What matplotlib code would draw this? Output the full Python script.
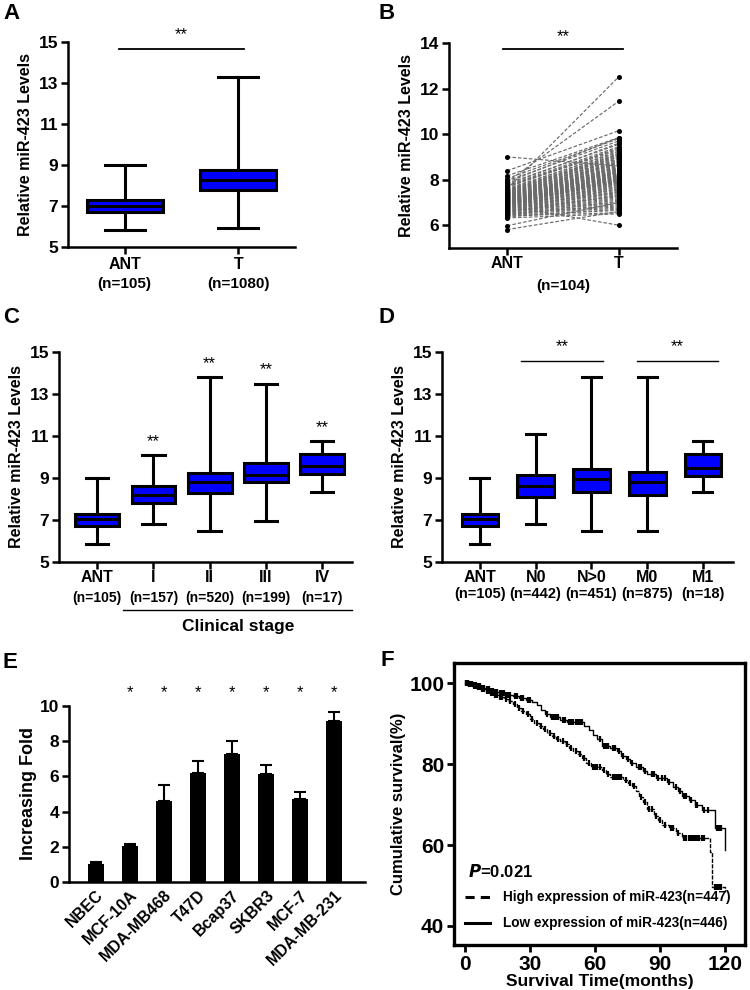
import numpy as np
import matplotlib
matplotlib.use('Agg')
import matplotlib.pyplot as plt

plt.rcParams['font.family'] = ['Liberation Sans', 'DejaVu Sans']
plt.rcParams['font.weight'] = 'bold'
plt.rcParams['axes.labelweight'] = 'bold'

# ---------------- data ----------------
# Panel A
a_groups = ['ANT', 'T']
a_counts = ['(n=105)', '(n=1080)']
a_whislo = [5.85, 5.95]
a_q1 = [6.70, 7.80]
a_med = [7.00, 8.25]
a_q3 = [7.30, 8.75]
a_whishi = [9.00, 13.30]

# Panel B (paired samples)
b_groups = ['ANT', 'T']
b_count = '(n=104)'
b_ant = [9.00, 8.39, 8.17, 8.05, 7.60, 7.90, 5.81, 5.98, 6.85, 7.95,
         7.12, 6.95, 7.33, 6.71, 7.48, 7.05, 6.62, 7.21, 6.88, 7.66,
         6.45, 7.02, 7.39, 6.79, 7.15, 6.54, 7.28, 7.83, 6.93, 7.10,
         6.37, 7.44, 7.01, 6.68, 7.57, 6.99, 7.24, 6.81, 7.72, 6.58,
         7.08, 6.90, 7.36, 6.49, 7.18, 7.52, 6.75, 7.04, 6.97, 7.30,
         6.63, 7.78, 7.13, 6.86, 6.41, 7.26, 7.61, 6.92, 7.07, 6.73,
         7.41, 6.56, 7.19, 6.84, 7.88, 7.00, 6.67, 7.35, 6.32, 7.11,
         6.96, 7.47, 6.77, 7.23, 6.52, 7.69, 7.03, 6.89, 7.16, 6.44,
         7.55, 6.82, 7.27, 6.60, 7.09, 7.38, 6.94, 6.70, 7.74, 6.98,
         7.20, 6.47, 7.43, 6.87, 7.06, 6.65, 7.31, 7.14, 6.80, 7.50,
         6.91, 7.25, 6.59, 7.01]
b_tumor = [8.60, 10.15, 9.85, 9.80, 12.52, 11.45, 6.60, 7.00, 6.00, 9.70,
           8.35, 7.95, 8.80, 7.60, 9.10, 8.20, 7.30, 8.55, 8.05, 9.40,
           7.05, 8.15, 8.90, 7.70, 8.40, 6.85, 8.70, 9.55, 7.90, 8.25,
           6.70, 9.00, 8.10, 7.45, 9.25, 8.00, 8.60, 7.80, 9.35, 6.95,
           8.30, 7.85, 8.75, 6.90, 8.45, 9.15, 7.50, 8.20, 8.05, 8.65,
           7.20, 9.60, 8.35, 7.75, 6.55, 8.50, 9.20, 7.95, 8.15, 7.40,
           8.85, 7.10, 8.40, 7.65, 9.85, 8.10, 7.35, 8.80, 6.50, 8.30,
           7.90, 9.05, 7.55, 8.55, 6.80, 9.30, 8.00, 7.70, 8.45, 6.65,
           9.10, 7.60, 8.70, 7.15, 8.25, 8.95, 7.85, 7.25, 9.45, 8.05,
           8.50, 6.75, 8.90, 7.80, 8.20, 7.00, 8.75, 8.35, 7.45, 9.00,
           7.95, 8.60, 7.30, 8.15]

# Panel C
c_groups = ['ANT', 'I', 'II', 'III', 'IV']
c_counts = ['(n=105)', '(n=157)', '(n=520)', '(n=199)', '(n=17)']
c_whislo = [5.85, 6.80, 6.50, 6.95, 8.35]
c_q1 = [6.70, 7.80, 8.30, 8.80, 9.20]
c_med = [7.05, 8.20, 8.80, 9.15, 9.55]
c_q3 = [7.30, 8.60, 9.25, 9.70, 10.15]
c_whishi = [9.00, 10.10, 13.80, 13.50, 10.75]
c_sig = ['', '**', '**', '**', '**']

# Panel D
d_groups = ['ANT', 'N0', 'N>0', 'M0', 'M1']
d_counts = ['(n=105)', '(n=442)', '(n=451)', '(n=875)', '(n=18)']
d_whislo = [5.85, 6.80, 6.50, 6.50, 8.35]
d_q1 = [6.70, 8.10, 8.35, 8.20, 9.10]
d_med = [7.05, 8.60, 8.95, 8.80, 9.50]
d_q3 = [7.30, 9.15, 9.45, 9.30, 10.15]
d_whishi = [9.00, 11.10, 13.80, 13.80, 10.75]

# Panel E
e_lines = ['NBEC', 'MCF-10A', 'MDA-MB468', 'T47D', 'Bcap37', 'SKBR3', 'MCF-7', 'MDA-MB-231']
e_fold = [1.02, 2.05, 4.60, 6.22, 7.25, 6.15, 4.73, 9.12]
e_err = [0.14, 0.13, 0.90, 0.64, 0.74, 0.50, 0.37, 0.55]
e_sig = ['', '*', '*', '*', '*', '*', '*', '*']

# Panel F (Kaplan-Meier)
f_low_time = [0, 2, 4, 6, 8, 10, 12, 14, 16, 19, 22, 25, 28, 31, 33, 35, 37, 39, 44, 47,
              55, 57, 59, 61, 63, 67, 70, 72, 74, 76, 79, 82, 84, 88, 93, 96, 98, 100,
              103, 106, 109, 115, 120]
f_low_surv = [100, 99.8, 99.5, 99.2, 98.9, 98.5, 98.1, 97.8, 97.5, 97.2, 96.8, 96.3, 95.8,
              95.4, 94.5, 93.4, 92.3, 91.6, 91.0, 90.3, 89.5, 88.4, 87.3, 86.1, 84.6, 84.0,
              83.2, 82.1, 81.2, 80.2, 79.2, 78.3, 77.5, 76.6, 75.6, 74.4, 73.3, 72.2, 71.1,
              70.0, 68.6, 64.2, 58.8]
f_low_cens = [0.5, 1, 1.5, 2, 2.5, 3, 3.5, 4, 5, 6, 7, 8, 9, 10, 11, 12, 13, 14, 15, 16, 17,
              18, 19, 20, 21, 23, 24, 26, 27, 29, 30, 38, 40, 41, 42, 43, 45, 46, 48, 49, 50,
              51, 52, 53, 54, 62, 64, 65, 66, 68, 69, 71, 73, 75, 77, 80, 81, 83, 86, 87, 89,
              91, 92, 94, 97, 99, 101, 102, 104, 106.5, 107, 110, 112, 116, 117, 118]
f_high_time = [0, 2, 4, 6, 8, 10, 12, 14, 16, 18, 20, 22, 24, 26, 28, 30, 32, 34, 36, 38,
               40, 42, 44, 46, 48, 50, 52, 54, 56, 58, 63, 65, 67, 73, 75, 77, 79, 80, 82, 84,
               87, 89, 91, 94, 97, 100, 113, 114, 120]
f_high_surv = [100, 99.7, 99.4, 99.0, 98.6, 98.1, 97.5, 97.0, 96.6, 96.2, 95.5, 94.8, 94.0,
               93.2, 92.3, 91.2, 90.2, 89.5, 88.6, 87.8, 87.0, 86.3, 85.7, 85.0, 84.1, 83.3,
               82.4, 81.6, 80.4, 79.3, 78.6, 77.6, 76.9, 76.2, 75.4, 74.5, 73.3, 72.0, 70.6,
               68.9, 67.2, 66.3, 65.0, 64.1, 63.0, 61.7, 58.2, 49.6, 48.3]
f_high_cens = [0.5, 1, 1.5, 2, 2.5, 3, 3.5, 4, 5, 6, 7, 8, 9, 10, 11, 12, 13, 14, 15, 16, 17,
               19, 21, 23, 25, 27, 29, 31, 33, 35, 37, 39, 41, 43, 45, 47, 49, 51, 53, 55, 57,
               59, 60, 61, 62, 64, 66, 68, 69, 70, 71, 72, 74, 76, 78, 81, 83, 85, 86, 88, 90,
               92, 95, 96, 98, 101, 102, 103, 104, 105, 106, 107, 108, 109, 110, 115, 116,
               117, 118]
f_p = 0.021
f_legend = ['High expression of miR-423(n=447)', 'Low expression of miR-423(n=446)']

# ---------------- layout helpers ----------------
W, H = 750, 990
fig = plt.figure(figsize=(W / 100, H / 100), dpi=100)
BLUE = '#0000ff'
LW = 1.8


def px_ax(l, t, r, b):
    return fig.add_axes([l / W, 1 - b / H, (r - l) / W, (b - t) / H])


def panel_letter(x, y, s):
    fig.text(x / W, 1 - y / H, s, ha='left', va='top', fontsize=16, fontweight='bold')


def gp_style(ax, ylo, yhi, yticks, ysize):
    ax.spines['top'].set_visible(False)
    ax.spines['right'].set_visible(False)
    ax.spines['left'].set_bounds(ylo, yhi)
    for s in ('left', 'bottom'):
        ax.spines[s].set_linewidth(LW)
    ax.set_yticks(yticks)
    ax.tick_params(axis='both', width=LW, length=5, direction='out')
    ax.tick_params(axis='y', labelsize=ysize, pad=2)
    ax.set_ylim(ylo, yhi)


def boxes(ax, whislo, q1, med, q3, whishi, width, capw):
    stats = [dict(whislo=a, q1=b, med=c, q3=d, whishi=e)
             for a, b, c, d, e in zip(whislo, q1, med, q3, whishi)]
    ax.bxp(stats, positions=list(range(len(stats))), widths=width, capwidths=capw,
           patch_artist=True, showfliers=False, manage_ticks=False,
           boxprops=dict(facecolor=BLUE, edgecolor='black', linewidth=2.2),
           medianprops=dict(color='black', linewidth=2.2),
           whiskerprops=dict(color='black', linewidth=2.2),
           capprops=dict(color='black', linewidth=2.2))


def under(ax, x, text, px_below, size, weight='bold'):
    ax.annotate(text, xy=(x, 0), xycoords=('data', 'axes fraction'),
                xytext=(0, -px_below * 0.72), textcoords='offset points',
                ha='center', va='center', fontsize=size, fontweight=weight,
                annotation_clip=False)


def stars(ax, x, y, s, size=12):
    ax.text(x, y, s, ha='center', va='center', fontsize=size, fontweight='normal',
            clip_on=False)


# ---------------- Panel A ----------------
axA = px_ax(68, 42, 295, 247)
boxes(axA, a_whislo, a_q1, a_med, a_q3, a_whishi, 0.67, 0.35)
gp_style(axA, 5, 15, [5, 7, 9, 11, 13, 15], 12.5)
axA.set_xlim(-0.5, 1.5)
axA.set_xticks([0, 1])
axA.set_xticklabels([])
for i, (g, n) in enumerate(zip(a_groups, a_counts)):
    under(axA, i, g, 18, 11.5)
    under(axA, i, n, 37, 11)
axA.plot([-0.05, 1.05], [14.66, 14.66], color='black', lw=1.3, clip_on=False)
stars(axA, 0.5, 15.35, '**')
axA.set_ylabel('Relative miR-423 Levels', fontsize=11.5, labelpad=4)
panel_letter(3, 3, 'A')

# ---------------- Panel B ----------------
axB = px_ax(449, 43, 677, 248)
for a, t in zip(b_ant, b_tumor):
    axB.plot([0, 1], [a, t], ls=(0, (3, 1.6)), color='#6a6a6a', lw=0.85, zorder=2)
axB.scatter(np.zeros(len(b_ant)), b_ant, s=13, color='black', zorder=3, linewidths=0)
axB.scatter(np.ones(len(b_tumor)), b_tumor, s=13, color='black', zorder=3, linewidths=0)
gp_style(axB, 5, 14, [6, 8, 10, 12, 14], 12.5)
axB.set_xlim(-0.52, 1.52)
axB.set_xticks([0, 1])
axB.set_xticklabels([])
for i, g in enumerate(b_groups):
    under(axB, i, g, 15, 11.5)
under(axB, 0.5, b_count, 38, 11)
axB.plot([-0.04, 1.04], [13.74, 13.74], color='black', lw=1.3, clip_on=False)
stars(axB, 0.5, 14.3, '**')
axB.set_ylabel('Relative miR-423 Levels', fontsize=11.5, labelpad=4)
panel_letter(379, 3, 'B')

# ---------------- Panel C ----------------
axC = px_ax(59, 352, 352, 562)
boxes(axC, c_whislo, c_q1, c_med, c_q3, c_whishi, 0.78, 0.4)
gp_style(axC, 5, 15, [5, 7, 9, 11, 13, 15], 12.5)
axC.set_xlim(-0.68, 4.53)
axC.set_xticks(range(len(c_groups)))
axC.set_xticklabels([])
for i, (g, n) in enumerate(zip(c_groups, c_counts)):
    under(axC, i, g, 16, 11.5)
    under(axC, i, n, 36, 10)
    if c_sig[i]:
        stars(axC, i, c_whishi[i] + 0.65, c_sig[i])
axC.plot([0.46, 4.53], [-0.2286, -0.2286], color='black', lw=1.0,
         transform=axC.get_xaxis_transform(), clip_on=False)
under(axC, 2.5, 'Clinical stage', 64, 12.5)
axC.set_ylabel('Relative miR-423 Levels', fontsize=11.5, labelpad=4)
panel_letter(3, 307, 'C')

# ---------------- Panel D ----------------
axD = px_ax(442, 352, 733, 562)
boxes(axD, d_whislo, d_q1, d_med, d_q3, d_whishi, 0.66, 0.34)
gp_style(axD, 5, 15, [5, 7, 9, 11, 13, 15], 12.5)
axD.set_xlim(-0.68, 4.54)
axD.set_xticks(range(len(d_groups)))
axD.set_xticklabels([])
for i, (g, n) in enumerate(zip(d_groups, d_counts)):
    under(axD, i, g, 15, 11.5)
    under(axD, i, n, 32, 10.5)
for x0, x1 in ((0.73, 2.21), (2.81, 4.27)):
    axD.plot([x0, x1], [14.57, 14.57], color='black', lw=1.0, clip_on=False)
    stars(axD, (x0 + x1) / 2, 15.25, '**')
axD.set_ylabel('Relative miR-423 Levels', fontsize=11.5, labelpad=4)
panel_letter(379, 307, 'D')

# ---------------- Panel E ----------------
axE = px_ax(69, 706, 365, 882)
xe = np.arange(len(e_lines))
axE.bar(xe, e_fold, width=0.47, color='black', zorder=2)
axE.errorbar(xe, e_fold, yerr=[np.zeros(len(e_fold)), e_err], fmt='none',
             ecolor='black', elinewidth=1.5, capsize=4, capthick=1.5, zorder=1)
gp_style(axE, 0, 10, [0, 2, 4, 6, 8, 10], 12.5)
axE.set_xlim(-0.79, 7.9)
axE.set_xticks(xe)
axE.set_xticklabels(e_lines, rotation=45, ha='right', va='top',
                    rotation_mode='anchor', fontsize=11.5)
axE.tick_params(axis='x', length=0, pad=4)
for i, s in enumerate(e_sig):
    if s:
        stars(axE, i, 10.75, s)
axE.set_ylabel('Increasing Fold', fontsize=13, labelpad=2)
panel_letter(3, 652, 'E')

# ---------------- Panel F ----------------
axF = px_ax(454, 663, 745, 945)
axF.step(f_high_time, f_high_surv, where='post', color='black', lw=1.0,
         ls=(0, (3, 1)))
axF.step(f_low_time, f_low_surv, where='post', color='black', lw=1.0)


def step_at(times, surv, t):
    idx = np.searchsorted(np.asarray(times), np.asarray(t), side='right') - 1
    return np.asarray(surv)[idx]


axF.plot(f_high_cens, step_at(f_high_time, f_high_surv, f_high_cens), ls='none',
         marker='|', ms=5, mew=1.6, color='black')
axF.plot(f_low_cens, step_at(f_low_time, f_low_surv, f_low_cens), ls='none',
         marker='|', ms=5, mew=1.6, color='black')
axF.set_xlim(-5, 129)
axF.set_ylim(35.3, 105)
axF.set_xticks([0, 30, 60, 90, 120])
axF.set_yticks([40, 60, 80, 100])
for s in axF.spines.values():
    s.set_linewidth(2.4)
axF.tick_params(axis='both', width=2, length=5, labelsize=15, pad=2)
axF.set_xlabel('Survival Time(months)', fontsize=12.5, labelpad=0)
axF.set_ylabel('Cumulative survival(%)', fontsize=12, labelpad=2)
axF.text(0.048, 0.259, r'$\bf{\it{P}}$' + '=%.3f' % f_p, transform=axF.transAxes,
         ha='left', va='center', fontsize=12)
axF.plot([0.038, 0.124], [0.170, 0.170], transform=axF.transAxes, color='black',
         lw=2.2, ls=(0, (3, 2)))
axF.plot([0.038, 0.124], [0.078, 0.078], transform=axF.transAxes, color='black',
         lw=2.2)
axF.text(0.168, 0.170, f_legend[0], transform=axF.transAxes, ha='left', va='center',
         fontsize=9.8)
axF.text(0.168, 0.078, f_legend[1], transform=axF.transAxes, ha='left', va='center',
         fontsize=9.8)
panel_letter(380, 650, 'F')

fig.savefig('out.png', dpi=100)
